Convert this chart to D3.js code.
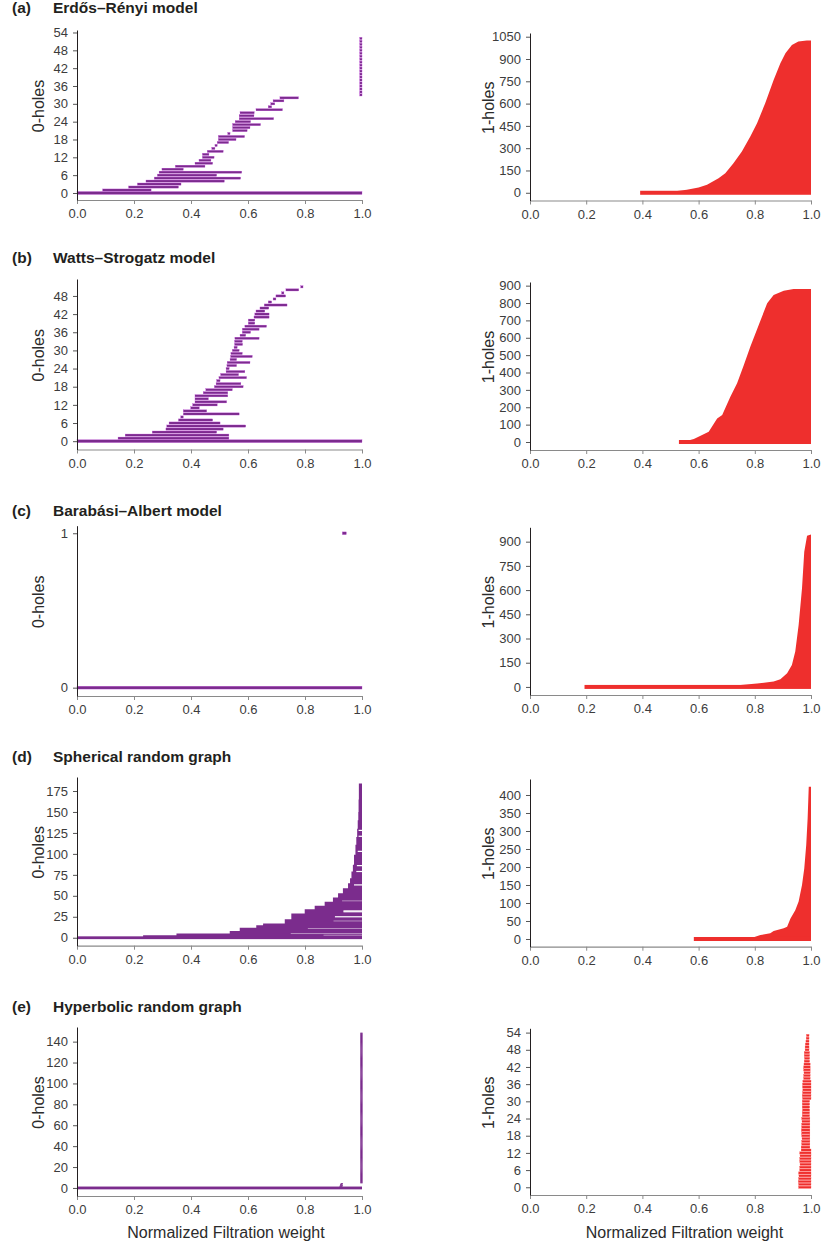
<!DOCTYPE html>
<html>
<head>
<meta charset="utf-8">
<script src="https://cdn.jsdelivr.net/npm/d3@7"></script>
<style>
  body { margin: 0; background: #fff; }
  text { font-family: "Liberation Sans", Arial, sans-serif; }
</style>
</head>
<body>
<div id="chart"></div>
<script>
// barcode colours
const purple = "#7b2c8d";
const red = "#ee2f2d";

const xTicks = [0, 0.2, 0.4, 0.6, 0.8, 1.0];

// (a) Erdos-Renyi, 0-holes: [birth, death], row index = position in list
const erBars0 = [
  [0, 1], [0.090, 0.260], [0.181, 0.356], [0.212, 0.365], [0.242, 0.517],
  [0.271, 0.574], [0.282, 0.490], [0.288, 0.578], [0.298, 0.373], [0.345, 0.449],
  [0.414, 0.476], [0.428, 0.470], [0.440, 0.481], [0.440, 0.463], [0.457, 0.513],
  [0.473, 0.484], [0.484, 0.492], [0.492, 0.532], [0.496, 0.558], [0.496, 0.588],
  [0.529, 0.537], [0.546, 0.597], [0.546, 0.607], [0.546, 0.644], [0.555, 0.609],
  [0.569, 0.690], [0.569, 0.621], [0.572, 0.622], [0.628, 0.721], [0.671, 0.683],
  [0.680, 0.694], [0.688, 0.726], [0.712, 0.777]
];
// runs of identical short bars: [first row, last row, birth, death]
const erRuns0 = [[33, 52, 0.992, 1.0]];
// (a) 1-holes, left edge of the barcode stack: [birth, row]
const erEdge1 = [
  [0.392, 0], [0.45, 3], [0.51, 8], [0.558, 20], [0.60, 36], [0.63, 54], [0.671, 98],
  [0.695, 132], [0.724, 199], [0.754, 278], [0.784, 378], [0.808, 468], [0.837, 602],
  [0.867, 759], [0.891, 871], [0.909, 938], [0.932, 994], [0.955, 1018], [0.985, 1025], [1.0, 1025]
];

// (b) Watts-Strogatz
const wsBars0 = [
  [0, 1], [0.144, 0.533], [0.169, 0.533], [0.264, 0.490], [0.312, 0.513],
  [0.315, 0.592], [0.323, 0.502], [0.356, 0.476], [0.364, 0.373], [0.373, 0.569],
  [0.373, 0.455], [0.399, 0.429], [0.406, 0.492], [0.414, 0.525], [0.414, 0.461],
  [0.414, 0.529], [0.443, 0.529], [0.452, 0.545], [0.482, 0.583], [0.488, 0.575],
  [0.490, 0.502], [0.498, 0.595], [0.504, 0.567], [0.523, 0.589], [0.523, 0.534],
  [0.526, 0.560], [0.527, 0.607], [0.537, 0.560], [0.539, 0.615], [0.540, 0.580],
  [0.545, 0.569], [0.551, 0.562], [0.553, 0.581], [0.553, 0.580], [0.554, 0.639],
  [0.572, 0.592], [0.580, 0.609], [0.580, 0.639], [0.589, 0.665], [0.601, 0.624],
  [0.601, 0.624], [0.621, 0.674], [0.624, 0.674], [0.628, 0.659], [0.642, 0.673],
  [0.657, 0.737], [0.671, 0.683], [0.688, 0.698], [0.698, 0.732], [0.718, 0.726],
  [0.733, 0.778], [0.785, 0.793]
];
const wsEdge1 = [
  [0.53, 0], [0.55, 3], [0.583, 17], [0.607, 36], [0.636, 59], [0.666, 136], [0.684, 155],
  [0.713, 261], [0.737, 338], [0.761, 443], [0.784, 549], [0.814, 674], [0.844, 798],
  [0.867, 846], [0.903, 871], [0.938, 881], [1.0, 881]
];

// (c) Barabasi-Albert
const baBars0 = [[0, 1], [0.931, 0.945]];
const baEdge1 = [
  [0.194, 0], [0.524, 3], [0.63, 7], [0.749, 12], [0.808, 21], [0.867, 33], [0.891, 47],
  [0.915, 85], [0.932, 136], [0.944, 219], [0.956, 384], [0.968, 611], [0.976, 838],
  [0.986, 937], [1.0, 945]
];

// (d) Spherical random graph
const sphBars0 = [[0, 1]];
// steps of the 0-hole stack: bars from this row upward are born here
const sphEdge0 = [
  [0.232, 1], [0.349, 3], [0.536, 5], [0.571, 8], [0.629, 12], [0.653, 15], [0.729, 17],
  [0.752, 22], [0.799, 29], [0.834, 34], [0.869, 38], [0.898, 43], [0.916, 48], [0.933, 53],
  [0.951, 59], [0.958, 65], [0.963, 71], [0.968, 79], [0.972, 87], [0.977, 99], [0.980, 111],
  [0.983, 120], [0.985, 130], [0.987, 140], [0.988, 150], [0.989, 165], [0.990, 184]
];
// rows that die early (white gaps): [row, death]
const sphGaps0 = [[25, 0.905], [31, 0.935], [32, 0.935], [63, 0.972], [79, 0.98], [86, 0.982], [103, 0.985], [121, 0.988], [128, 0.988]];
const sphFaint0 = [[3, 0.865], [5, 0.75], [11, 0.81], [20, 0.9], [44, 0.93]];
const sphEdge1 = [
  [0.583, 0], [0.63, 3], [0.796, 5], [0.82, 11], [0.855, 16], [0.867, 22], [0.903, 30],
  [0.915, 34], [0.927, 57], [0.944, 80], [0.956, 104], [0.968, 150], [0.976, 196],
  [0.983, 261], [0.988, 335], [0.992, 423], [1.0, 423]
];

// (e) Hyperbolic random graph
const hypBars0 = [[0, 1], [0.921, 0.930], [0.922, 0.933], [0.923, 0.930], [0.925, 0.932]];
const hypRuns0 = [[5, 148, 0.994, 1.0]];
const hypBirth1 = [
  0.956, 0.956, 0.955, 0.956, 0.957, 0.956,
  0.960, 0.960, 0.961, 0.960, 0.960, 0.961, 0.960,
  0.965, 0.965,
  0.967, 0.967, 0.968, 0.967, 0.967, 0.966, 0.967, 0.967, 0.968, 0.967,
  0.969, 0.969, 0.970, 0.969, 0.969, 0.969, 0.970, 0.969,
  0.970, 0.971, 0.970, 0.970, 0.971,
  0.974, 0.974, 0.975, 0.974, 0.974, 0.975,
  0.976, 0.977, 0.976, 0.976,
  0.979, 0.979, 0.980,
  0.982, 0.983, 0.984
];
const hypDeath1 = [
  1, 1, 1, 1, 1, 1, 1, 1, 1, 1, 1, 1, 1, 1,
  0.996, 0.996, 0.996, 0.996, 0.996, 0.996, 0.996, 0.996, 0.996, 0.996, 0.996,
  0.995, 0.995, 0.995, 0.995, 0.995, 0.995,
  1, 1, 1, 1, 1, 1, 1,
  0.997, 0.997, 0.997, 0.997, 0.997, 0.997,
  0.995, 0.995, 0.995, 0.995,
  0.993, 0.993, 0.993, 0.993, 0.993, 0.993
];

const titles = ["Erdős–Rényi model", "Watts–Strogatz model", "Barabási–Albert model", "Spherical random graph", "Hyperbolic random graph"];
const letters = ["(a)", "(b)", "(c)", "(d)", "(e)"];

const svg = d3.select("#chart").append("svg")
  .attr("width", 825)
  .attr("height", 1251);

const colRange = [[77, 362], [530, 811]];
const titleY = [13, 263, 516, 762, 1012];

const panels = [
  { row: 0, col: 0, yr: [200, 30], yd: [-2.36, 54.84], ticks: [0, 6, 12, 18, 24, 30, 36, 42, 48, 54], bars: erBars0, runs: erRuns0 },
  { row: 0, col: 1, yr: [200.5, 33], yd: [-52, 1075], ticks: [0, 150, 300, 450, 600, 750, 900, 1050], edge: erEdge1 },
  { row: 1, col: 0, yr: [449.5, 279], yd: [-2.75, 53.6], ticks: [0, 6, 12, 18, 24, 30, 36, 42, 48], bars: wsBars0 },
  { row: 1, col: 1, yr: [450, 282], yd: [-46, 921], ticks: [0, 100, 200, 300, 400, 500, 600, 700, 800, 900], edge: wsEdge1 },
  { row: 2, col: 0, yr: [696, 525.7], yd: [-0.054, 1.049], ticks: [0, 1], bars: baBars0 },
  { row: 2, col: 1, yr: [695, 527.3], yd: [-50, 989], ticks: [0, 150, 300, 450, 600, 750, 900], edge: baEdge1 },
  { row: 3, col: 0, yr: [945.7, 777], yd: [-9.5, 191.7], ticks: [0, 25, 50, 75, 100, 125, 150, 175], bars: sphBars0, edge: sphEdge0, step: true, gaps: sphGaps0, faint: sphFaint0 },
  { row: 3, col: 1, yr: [946.7, 779], yd: [-21.4, 444.4], ticks: [0, 50, 100, 150, 200, 250, 300, 350, 400], edge: sphEdge1 },
  { row: 4, col: 0, yr: [1196, 1027], yd: [-7.7, 154], ticks: [0, 20, 40, 60, 80, 100, 120, 140], bars: hypBars0, runs: hypRuns0 },
  { row: 4, col: 1, yr: [1195, 1028.3], yd: [-2.7, 55.5], ticks: [0, 6, 12, 18, 24, 30, 36, 42, 48, 54], bars: hypBirth1.map((b, i) => [b, hypDeath1[i]]) }
];

function drawPanel(p) {
  const color = p.col === 0 ? purple : red;
  const x = d3.scaleLinear().domain([0, 1]).range(colRange[p.col]);
  const y = d3.scaleLinear().domain(p.yd).range(p.yr);
  const g = svg.append("g");

  const spacing = Math.abs(y(1) - y(0));
  const rowH = Math.max(Math.min(spacing * 0.72, 2.7), 1.3);
  const outline = spacing > 2;

  // dense stacks drawn as the area between the birth edge and 1.0
  if (p.edge) {
    const area = d3.area()
      .y(d => y(d[1]))
      .x0(d => x(d[0]))
      .x1(x(1))
      .curve(p.step ? d3.curveStepBefore : d3.curveLinear);
    g.append("path")
      .datum(p.edge)
      .attr("d", area)
      .attr("fill", color);
    if (!p.bars) {
      g.append("rect")
        .attr("x", x(p.edge[0][0]))
        .attr("y", y(0) - 2)
        .attr("width", x(1) - x(p.edge[0][0]))
        .attr("height", 4)
        .attr("fill", color);
    }
  }

  let rows = [];
  if (p.bars) rows = p.bars.map((d, i) => ({ i: i, b: d[0], d: d[1] }));
  if (p.runs) {
    p.runs.forEach(r => {
      d3.range(r[0], r[1] + 1).forEach(i => rows.push({ i: i, b: r[2], d: r[3] }));
    });
  }
  g.selectAll("rect.bar")
    .data(rows)
    .enter()
    .append("rect")
    .attr("class", "bar")
    .attr("x", d => x(d.b))
    .attr("y", d => y(d.i) - (d.i === 0 && d.b === 0 ? 1.4 : rowH / 2))
    .attr("width", d => Math.max(x(d.d) - x(d.b), 2.3))
    .attr("height", d => d.i === 0 && d.b === 0 ? 2.8 : rowH)
    .attr("fill", color)
    .attr("stroke", outline ? d3.color(color).brighter(1.2) : "none")
    .attr("stroke-width", 0.3);

  if (p.gaps) {
    g.selectAll("rect.gap")
      .data(p.gaps)
      .enter()
      .append("rect")
      .attr("x", d => x(d[1]))
      .attr("y", d => y(d[0]) - 0.6)
      .attr("width", d => x(1) - x(d[1]))
      .attr("height", 1.2)
      .attr("fill", "#fff");
    g.selectAll("rect.faint")
      .data(p.faint)
      .enter()
      .append("rect")
      .attr("x", d => x(d[1]))
      .attr("y", d => y(d[0]) - 0.5)
      .attr("width", d => x(1) - x(d[1]))
      .attr("height", 1)
      .attr("fill", "#fff")
      .attr("opacity", 0.45);
  }

  // x axis
  const xAxis = g.append("g")
    .attr("transform", `translate(0, ${p.yr[0]})`)
    .call(d3.axisBottom(x).tickValues(xTicks).tickFormat(d3.format(".1f"))
      .tickSize(4).tickPadding(5).tickSizeOuter(0));
  xAxis.select(".domain").attr("stroke", "#8a8a8a").attr("stroke-width", 1.2);
  xAxis.selectAll(".tick line").attr("stroke", "#8a8a8a");

  // y axis
  const yAxis = g.append("g")
    .attr("transform", `translate(${x(0)}, 0)`)
    .call(d3.axisLeft(y).tickValues(p.ticks).tickFormat(d3.format("d"))
      .tickSize(4).tickPadding(5).tickSizeOuter(0));
  yAxis.select(".domain").attr("stroke", "#231f20");
  yAxis.selectAll(".tick line").attr("stroke", "#555");

  g.selectAll(".tick text")
    .style("font-size", "13px")
    .style("font-family", "'Liberation Sans', Arial, sans-serif")
    .attr("fill", "#3c3c3c");

  // axis title
  const cy = (p.yr[0] + p.yr[1]) / 2 - 9;
  g.append("text")
    .attr("transform", `translate(${x(0) - (p.col === 0 ? 33 : 36.5)}, ${cy}) rotate(-90)`)
    .attr("text-anchor", "middle")
    .style("font-size", "16px")
    .attr("fill", "#2b2b2b")
    .text(p.col === 0 ? "0-holes" : "1-holes");

  if (p.col === 0) {
    g.append("text")
      .attr("x", 12)
      .attr("y", titleY[p.row])
      .style("font-size", "15.5px")
      .style("font-weight", "bold")
      .attr("fill", "#231f20")
      .text(letters[p.row]);
    g.append("text")
      .attr("x", 53)
      .attr("y", titleY[p.row])
      .style("font-size", "15.5px")
      .style("font-weight", "bold")
      .attr("fill", "#231f20")
      .text(titles[p.row]);
  }
}

panels.forEach(drawPanel);

// shared x label under the bottom row
[226, 684.5].forEach(cx => {
  svg.append("text")
    .attr("x", cx)
    .attr("y", 1238)
    .attr("text-anchor", "middle")
    .style("font-size", "16px")
    .attr("fill", "#2b2b2b")
    .text("Normalized Filtration weight");
});
</script>
</body>
</html>
